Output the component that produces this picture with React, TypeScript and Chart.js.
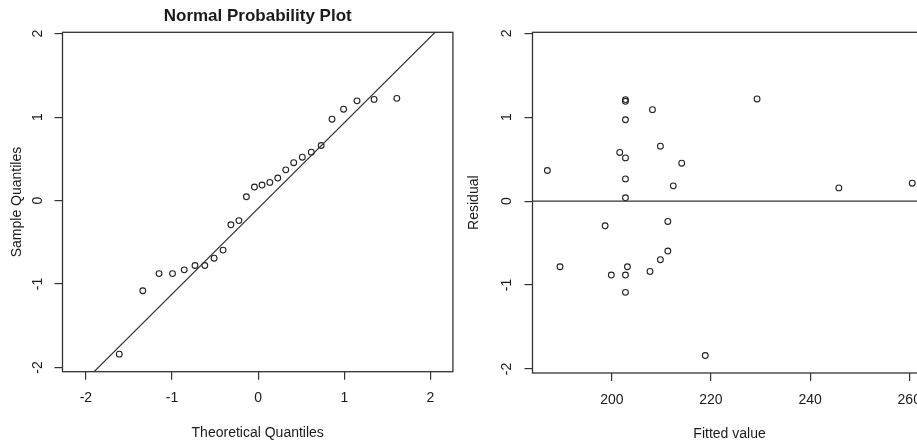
import React, { useEffect, useRef } from 'react';
import { Chart, registerables } from 'chart.js';

Chart.register(...registerables);

// ---- Data ----
const theoreticalQuantiles = [
  -1.613, -1.34, -1.151, -0.995, -0.859, -0.734, -0.62, -0.512, -0.408, -0.317, -0.224, -0.137, -0.044,
  0.044, 0.135, 0.227, 0.32, 0.412, 0.512, 0.616, 0.731, 0.857, 0.991, 1.147, 1.345, 1.609,
];
const sampleQuantiles = [
  -1.84, -1.08, -0.875, -0.875, -0.83, -0.778, -0.778, -0.69, -0.593, -0.29, -0.24, 0.045, 0.162,
  0.186, 0.218, 0.27, 0.368, 0.454, 0.52, 0.58, 0.66, 0.975, 1.095, 1.195, 1.212, 1.225,
];
const qqLineX = [-2.5, 2.5];
const qqLineY = [-2.66, 2.474];

const fittedValues = [
  187.0, 202.75, 202.75, 202.75, 208.2, 209.8, 201.6, 202.75, 214.1, 202.75, 212.4, 202.75, 229.3,
  245.8, 260.6, 198.65, 211.3, 189.55, 199.9, 202.75, 203.15, 202.75, 207.7, 209.8, 211.3, 218.85,
];
const residuals = [
  0.365, 1.21, 1.19, 0.97, 1.09, 0.655, 0.58, 0.515, 0.452, 0.265, 0.182, 0.04, 1.218,
  0.158, 0.214, -0.294, -0.242, -0.782, -0.881, -0.881, -0.782, -1.087, -0.837, -0.698, -0.595, -1.84,
];
const zeroLineX = [150, 300];
const zeroLineY = [0, 0];

const qqXTicks = [-2, -1, 0, 1, 2];
const qqYTicks = [-2, -1, 0, 1, 2];
const fitXTicks = [200, 220, 240, 260];
const resYTicks = [-2, -1, 0, 1, 2];

const FONT = '"Liberation Sans", Arial, Helvetica, sans-serif';
const INK = '#1a1a1a';
const LINE = '#333333';

type PanelProps = {
  left: number;
  width: number;
  height: number;
  points: { x: number; y: number }[];
  line: { x: number; y: number }[];
  xMin: number;
  xMax: number;
  yMin: number;
  yMax: number;
  xTicks: number[];
  yTicks: number[];
  yAxisWidth: number;
  xAxisHeight: number;
  padding: { top: number; right: number; bottom: number; left: number };
  title?: string;
  xTitle: string;
  yTitle: string;
  xTickLabelY: number;
  yTickLabelX: number;
  xTitleY: number;
  yTitleX: number;
  titleY: number;
};

function Panel(p: PanelProps) {
  const ref = useRef<HTMLCanvasElement | null>(null);

  useEffect(() => {
    if (!ref.current) return;

    const textPlugin = {
      id: 'rStyleText',
      afterDraw(chart: any) {
        const ctx = chart.ctx as CanvasRenderingContext2D;
        const ca = chart.chartArea;
        const xs = chart.scales.x;
        const ys = chart.scales.y;
        ctx.save();
        // box
        ctx.strokeStyle = LINE;
        ctx.lineWidth = 1.3;
        ctx.strokeRect(ca.left, ca.top, ca.right - ca.left, ca.bottom - ca.top);

        ctx.fillStyle = INK;
        ctx.font = `14px ${FONT}`;
        ctx.textBaseline = 'middle';
        ctx.textAlign = 'center';
        // x tick labels
        p.xTicks.forEach((v) => {
          ctx.fillText(String(v), xs.getPixelForValue(v), p.xTickLabelY);
        });
        // y tick labels (rotated)
        p.yTicks.forEach((v) => {
          ctx.save();
          ctx.translate(p.yTickLabelX, ys.getPixelForValue(v));
          ctx.rotate(-Math.PI / 2);
          ctx.fillText(String(v), 0, 0);
          ctx.restore();
        });
        // axis titles
        const cx = (ca.left + ca.right) / 2;
        const cy = (ca.top + ca.bottom) / 2;
        ctx.fillText(p.xTitle, cx, p.xTitleY);
        ctx.save();
        ctx.translate(p.yTitleX, cy);
        ctx.rotate(-Math.PI / 2);
        ctx.fillText(p.yTitle, 0, 0);
        ctx.restore();
        // main title
        if (p.title) {
          ctx.font = `bold 17px ${FONT}`;
          ctx.fillText(p.title, cx, p.titleY);
        }
        ctx.restore();
      },
    };

    const chart = new Chart(ref.current, {
      type: 'scatter',
      data: {
        datasets: [
          {
            type: 'line',
            data: p.line,
            borderColor: LINE,
            borderWidth: 1.2,
            pointRadius: 0,
            fill: false,
            tension: 0,
          } as any,
          {
            type: 'scatter',
            data: p.points,
            pointStyle: 'circle',
            pointRadius: 2.9,
            pointBorderWidth: 1.1,
            pointBorderColor: '#222',
            pointBackgroundColor: 'rgba(0,0,0,0)',
            borderColor: '#222',
            backgroundColor: 'rgba(0,0,0,0)',
          } as any,
        ],
      },
      options: {
        responsive: false,
        animation: false,
        events: [],
        layout: { padding: p.padding },
        plugins: {
          legend: { display: false },
          tooltip: { enabled: false },
          title: { display: false },
        },
        scales: {
          x: {
            type: 'linear',
            position: 'bottom',
            min: p.xMin,
            max: p.xMax,
            afterBuildTicks: (scale: any) => {
              scale.ticks = p.xTicks.map((v) => ({ value: v }));
            },
            afterFit: (scale: any) => {
              scale.height = p.xAxisHeight;
            },
            ticks: { display: false },
            grid: {
              display: true,
              drawOnChartArea: false,
              drawTicks: true,
              tickLength: 8,
              color: LINE,
              lineWidth: 1.2,
            },
            border: { display: false },
          },
          y: {
            type: 'linear',
            position: 'left',
            min: p.yMin,
            max: p.yMax,
            afterBuildTicks: (scale: any) => {
              scale.ticks = p.yTicks.map((v) => ({ value: v }));
            },
            afterFit: (scale: any) => {
              scale.width = p.yAxisWidth;
            },
            ticks: { display: false },
            grid: {
              display: true,
              drawOnChartArea: false,
              drawTicks: true,
              tickLength: 8,
              color: LINE,
              lineWidth: 1.2,
            },
            border: { display: false },
          },
        },
      } as any,
      plugins: [textPlugin],
    });

    return () => {
      chart.destroy();
    };
  }, []);

  return (
    <canvas
      ref={ref}
      width={p.width}
      height={p.height}
      style={{
        position: 'absolute',
        left: p.left,
        top: 0,
        width: p.width,
        height: p.height,
        display: 'block',
      }}
    />
  );
}

export default function App() {
  const qqPoints = theoreticalQuantiles.map((x, i) => ({ x, y: sampleQuantiles[i] }));
  const qqLine = qqLineX.map((x, i) => ({ x, y: qqLineY[i] }));
  const resPoints = fittedValues.map((x, i) => ({ x, y: residuals[i] }));
  const zeroLine = zeroLineX.map((x, i) => ({ x, y: zeroLineY[i] }));

  return (
    <div
      style={{
        position: 'fixed',
        left: 0,
        top: 0,
        width: 917,
        height: 444,
        overflow: 'hidden',
        background: '#ffffff',
      }}
    >
      <Panel
        left={0}
        width={458}
        height={444}
        points={qqPoints}
        line={qqLine}
        xMin={-2.272}
        xMax={2.26}
        yMin={-2.05}
        yMax={2.016}
        xTicks={qqXTicks}
        yTicks={qqYTicks}
        yAxisWidth={62.5}
        xAxisHeight={72.3}
        padding={{ top: 32.3, right: 3.5, bottom: 0, left: 0 }}
        title="Normal Probability Plot"
        xTitle="Theoretical Quantiles"
        yTitle="Sample Quantiles"
        xTickLabelY={398.5}
        yTickLabelX={38}
        xTitleY={433}
        yTitleX={17.5}
        titleY={16}
      />
      <Panel
        left={458}
        width={500}
        height={444}
        points={resPoints}
        line={zeroLine}
        xMin={184.0}
        xMax={263.5}
        yMin={-2.048}
        yMax={2.012}
        xTicks={fitXTicks}
        yTicks={resYTicks}
        yAxisWidth={74.5}
        xAxisHeight={71}
        padding={{ top: 32.3, right: 31.4, bottom: 0, left: 0 }}
        xTitle="Fitted value"
        yTitle="Residual"
        xTickLabelY={400}
        yTickLabelX={49.5}
        xTitleY={434.5}
        yTitleX={16}
        titleY={16}
      />
    </div>
  );
}
